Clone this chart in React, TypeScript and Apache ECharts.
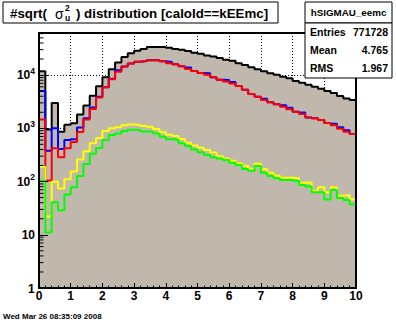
import React, { useEffect, useRef } from 'react';
import * as echarts from 'echarts';

// Bin lower edges (50 bins of width 0.2 from 0 to 10)
const binLow = [
  0, 0.2, 0.4, 0.6, 0.8, 1, 1.2, 1.4, 1.6, 1.8,
  2, 2.2, 2.4, 2.6, 2.8, 3, 3.2, 3.4, 3.6, 3.8,
  4, 4.2, 4.4, 4.6, 4.8, 5, 5.2, 5.4, 5.6, 5.8,
  6, 6.2, 6.4, 6.6, 6.8, 7, 7.2, 7.4, 7.6, 7.8,
  8, 8.2, 8.4, 8.6, 8.8, 9, 9.2, 9.4, 9.6, 9.8,
];
const xUpperEdge = 10;

const totalCounts = [
  11800, 950, 2970, 860, 1170, 1240, 1820, 2690, 4100, 6150,
  9100, 12900, 17300, 21800, 25600, 28600, 31000, 33600, 33600, 33600,
  32500, 31000, 29900, 28200, 26300, 25100, 23400, 22400, 20800, 19300,
  18500, 16600, 15500, 13950, 12800, 11750, 10800, 10100, 9300, 8700,
  7760, 7170, 6600, 6050, 5530, 5010, 4580, 4030, 3640, 3390,
];
const blueCounts = [
  5000, 380, 1000, 410, 600, 620, 1040, 1550, 2450, 3900,
  5900, 8500, 12300, 14500, 16500, 17800, 18300, 18900, 18900, 18100,
  17600, 15900, 14600, 13900, 11900, 10900, 10800, 9050, 8150, 8100,
  7400, 6200, 5300, 4400, 3900, 3600, 3090, 2820, 2700, 2420,
  2040, 1970, 1600, 1540, 1430, 1260, 1220, 1050, 920, 780,
];
const redCounts = [
  1470, 105, 420, 285, 420, 550, 850, 1470, 2300, 3800,
  5900, 8300, 11500, 14500, 16500, 17800, 18300, 18900, 18900, 18100,
  16600, 15900, 14600, 13000, 11900, 10900, 10100, 9050, 8150, 7600,
  6930, 6200, 5300, 4400, 3900, 3390, 3090, 2820, 2530, 2280,
  2040, 1850, 1600, 1540, 1430, 1260, 1140, 980, 860, 780,
];
const yellowCounts = [
  190, 22, 99, 74, 110, 155, 260, 370, 525, 660,
  890, 1000, 1050, 1135, 1180, 1150, 1110, 1070, 970, 840,
  760, 720, 630, 535, 475, 430, 390, 350, 300, 272,
  245, 220, 198, 174, 215, 170, 146, 129, 118, 118,
  115, 95, 96, 67, 78, 63, 78, 54, 55, 46,
];
const greenCounts = [
  105, 11, 41, 29, 57, 78, 127, 213, 332, 425,
  600, 750, 800, 890, 940, 930, 870, 860, 800, 695,
  620, 610, 525, 465, 400, 355, 315, 285, 270, 253,
  225, 204, 172, 160, 195, 146, 127, 115, 107, 107,
  103, 86, 81, 63, 63, 46, 69, 49, 45, 37,
];

const yMajorTicks = [1, 10, 100, 1000, 10000];
const yMinorTicks = [
  2, 3, 4, 5, 6, 7, 8, 9,
  20, 30, 40, 50, 60, 70, 80, 90,
  200, 300, 400, 500, 600, 700, 800, 900,
  2000, 3000, 4000, 5000, 6000, 7000, 8000, 9000,
  20000, 30000, 40000, 50000, 60000,
];
const yBottomLabel = '1';

const titleBefore = '#sqrt(';
const titleSigma = 'σ';
const titleSup = '2';
const titleSub = 'u';
const titleAfter = ') distribution [caloId==kEEmc]';
const histName = 'hSIGMAU_eemc';
const statNames = ['Entries', 'Mean', 'RMS'];
const statValues = ['771728', '4.765', '1.967'];
const dateStamp = 'Wed Mar 26 08:35:09 2008';

const FONT = '"Liberation Sans", Arial, Helvetica, sans-serif';
const FILL = '#c0b8ad';

function stepData(vals: number[]) {
  const d = binLow.map((x, i) => [x, vals[i]]);
  d.push([xUpperEdge, vals[vals.length - 1]]);
  return d;
}

export default function App() {
  const ref = useRef<HTMLDivElement>(null);
  useEffect(() => {
    document.body.style.margin = '0';
    const chart = echarts.init(ref.current!, undefined, { renderer: 'svg' });
    const gl = 39, gt = 33, gw = 317, gh = 255;
    const yMax = 61660;

    const lineSeries = (name: string, vals: number[], color: string, fill?: boolean) => ({
      name,
      type: 'line',
      step: 'end',
      data: stepData(vals),
      showSymbol: false,
      symbol: 'none',
      xAxisIndex: 0,
      yAxisIndex: 0,
      lineStyle: { color, width: 2 },
      areaStyle: fill ? { color: FILL, opacity: 1, origin: 'start' } : undefined,
      z: 2,
      silent: true,
    });

    const supLabel = (v: number) => {
      const lg = Math.log10(v);
      const e = Math.round(lg);
      if (Math.abs(lg - e) > 0.01) return '';
      if (e === 0) return '';
      if (e === 1) return '{b|10}';
      return '{b|10}{s|' + e + '}';
    };

    chart.setOption({
      animation: false,
      backgroundColor: '#ffffff',
      grid: { left: gl, top: gt, width: gw, height: gh, containLabel: false, show: false },
      xAxis: [
        {
          type: 'value', min: 0, max: 10, interval: 1, position: 'bottom', z: 0,
          axisLine: { show: false }, axisTick: { show: false }, axisLabel: { show: false },
          splitLine: { show: true, lineStyle: { color: '#000', width: 1, type: [1, 2] } },
        },
        {
          type: 'value', min: 0, max: 10, interval: 1, position: 'bottom', z: 10,
          axisLine: { show: true, onZero: false, lineStyle: { color: '#000', width: 2 } },
          axisTick: { show: true, inside: true, length: 5, lineStyle: { color: '#000', width: 1 } },
          minorTick: { show: true, splitNumber: 5, length: 2.5, lineStyle: { color: '#000', width: 1 } },
          axisLabel: { show: true, margin: 2, color: '#000', fontFamily: FONT, fontWeight: 'bold', fontSize: 12, showMinLabel: true, showMaxLabel: true, hideOverlap: false },
          splitLine: { show: false },
        },
        {
          type: 'value', min: 0, max: 10, position: 'top', z: 10,
          axisLine: { show: true, onZero: false, lineStyle: { color: '#000', width: 2 } },
          axisTick: { show: false }, axisLabel: { show: false }, splitLine: { show: false },
        },
      ],
      yAxis: [
        {
          type: 'log', logBase: 10, min: 1, max: yMax, interval: 1, z: 0,
          axisLine: { show: false }, axisTick: { show: false }, axisLabel: { show: false },
          splitLine: { show: true, lineStyle: { color: '#000', width: 1, type: [1, 2] } },
        },
        {
          type: 'log', logBase: 10, min: 1, max: yMax, interval: 1, position: 'left', z: 10,
          axisLine: { show: true, onZero: false, lineStyle: { color: '#000', width: 2 } },
          axisTick: { show: true, inside: true, length: 9, customValues: yMajorTicks, lineStyle: { color: '#000', width: 1 } },
          axisLabel: {
            show: true, margin: 4, color: '#000', formatter: supLabel,
            customValues: yMajorTicks,
            showMinLabel: true, hideOverlap: false,
            rich: {
              b: { fontFamily: FONT, fontWeight: 'bold', fontSize: 12, lineHeight: 18, color: '#000' },
              s: { fontFamily: FONT, fontWeight: 'bold', fontSize: 8.5, lineHeight: 9, verticalAlign: 'top', color: '#000' },
            },
          },
          splitLine: { show: false },
        },
        {
          type: 'log', logBase: 10, min: 1, max: yMax, position: 'right', z: 10,
          axisLine: { show: true, onZero: false, lineStyle: { color: '#000', width: 2 } },
          axisTick: { show: false }, axisLabel: { show: false }, splitLine: { show: false },
        },
      ],
      series: [
        lineSeries('total', totalCounts, '#000000', true),
        lineSeries('blue', blueCounts, '#0000ff'),
        lineSeries('red', redCounts, '#ff0000'),
        lineSeries('yellow', yellowCounts, '#ffff00'),
        lineSeries('green', greenCounts, '#00ff00'),
        {
          type: 'custom',
          xAxisIndex: 0,
          yAxisIndex: 0,
          z: 11,
          silent: true,
          data: yMinorTicks.map((v) => [0, v]),
          renderItem: (_p: any, api: any) => {
            const p = api.coord([0, api.value(1)]);
            return {
              type: 'line',
              shape: { x1: p[0], y1: p[1], x2: p[0] + 4.5, y2: p[1] },
              style: { stroke: '#000', lineWidth: 1 },
            };
          },
        },
      ],
      graphic: [
        { type: 'text', id: 'ybottom', left: 28, top: 283, z: 30, style: { text: yBottomLabel, font: `bold 12px ${FONT}`, fill: '#000' } },

        { type: 'rect', shape: { x: 3, y: 2, width: 275, height: 21 }, style: { fill: '#fff', stroke: '#000', lineWidth: 1 }, z: 20 },
        { type: 'text', x: 10, y: 13, z: 21, style: { text: titleBefore, font: `bold 13.3px ${FONT}`, fill: '#000', textVerticalAlign: 'middle' } },
        { type: 'text', x: 55, y: 13.5, z: 21, style: { text: titleSigma, font: `14px ${FONT}`, fill: '#000', textVerticalAlign: 'middle' } },
        { type: 'text', x: 65, y: 8, z: 21, style: { text: titleSup, font: `bold 8.5px ${FONT}`, fill: '#000', textVerticalAlign: 'middle' } },
        { type: 'text', x: 65, y: 17.5, z: 21, style: { text: titleSub, font: `bold 8.5px ${FONT}`, fill: '#000', textVerticalAlign: 'middle' } },
        { type: 'text', x: 76, y: 13, z: 21, style: { text: titleAfter, font: `bold 13.3px ${FONT}`, fill: '#000', textVerticalAlign: 'middle' } },

        { type: 'rect', shape: { x: 305, y: 2, width: 87, height: 21 }, style: { fill: '#fff', stroke: '#000', lineWidth: 1 }, z: 20 },
        { type: 'text', x: 348.5, y: 12.5, z: 21, style: { text: histName, font: `bold 9.8px ${FONT}`, fill: '#000', textAlign: 'center', textVerticalAlign: 'middle' } },
        { type: 'rect', shape: { x: 305, y: 23, width: 87, height: 55 }, style: { fill: '#fff', stroke: '#000', lineWidth: 1 }, z: 20 },
        ...statNames.map((n, i) => ({ type: 'text', x: 310, y: 31.5 + i * 18, z: 21, style: { text: n, font: `bold 10.5px ${FONT}`, fill: '#000', textVerticalAlign: 'middle' } })),
        ...statValues.map((v, i) => ({ type: 'text', x: 388, y: 31.5 + i * 18, z: 21, style: { text: v, font: `bold 10.5px ${FONT}`, fill: '#000', textAlign: 'right', textVerticalAlign: 'middle' } })),

        { type: 'text', x: 3, y: 316, z: 21, style: { text: dateStamp, font: `bold 8px ${FONT}`, fill: '#000', textVerticalAlign: 'middle' } },
      ],
    });
    return () => chart.dispose();
  }, []);
  return <div ref={ref} style={{ width: 396, height: 322 }} />;
}
